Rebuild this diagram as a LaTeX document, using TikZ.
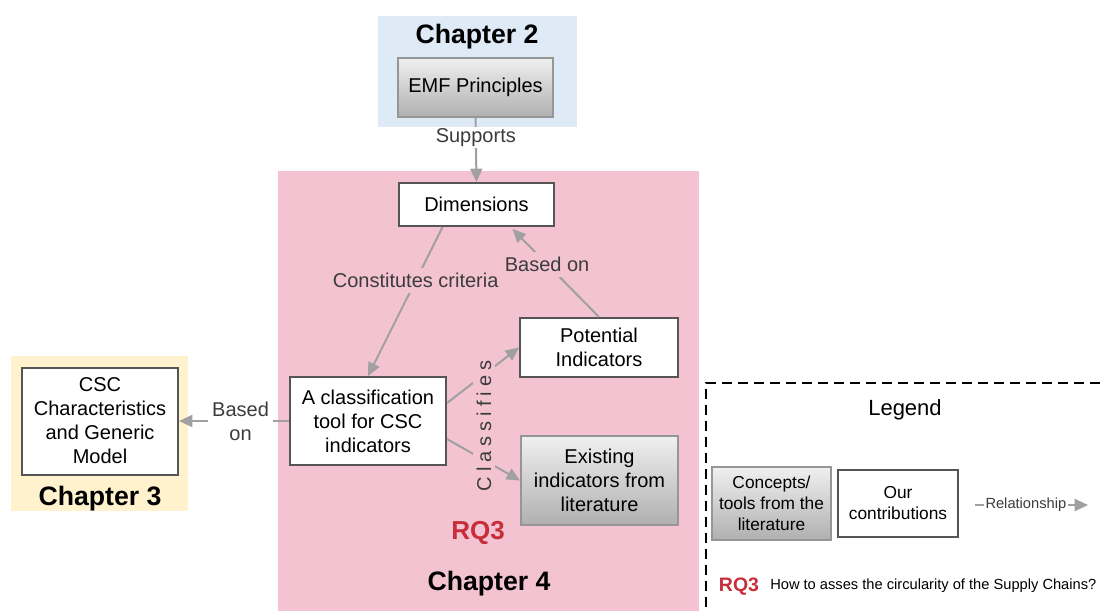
\documentclass[tikz,border=0pt]{standalone}
\usepackage{fontspec}
\setmainfont{Liberation Sans}
\usetikzlibrary{arrows.meta,calc}
\definecolor{bluebg}{RGB}{222,235,247}
\definecolor{pinkbg}{RGB}{243,195,209}
\definecolor{yellowbg}{RGB}{255,242,204}
\definecolor{rqred}{RGB}{200,45,58}
\definecolor{linegray}{RGB}{160,160,160}
\definecolor{boxborder}{RGB}{85,85,85}
\definecolor{gradborder}{RGB}{150,150,150}
\definecolor{labeltext}{RGB}{60,60,60}
\tikzset{
  ourbox/.style={draw=boxborder, line width=1.5pt, fill=white, align=center, inner sep=2pt,
    font=\fontsize{15}{18}\selectfont},
  litbox/.style={draw=gradborder, line width=1.5pt, top color=gray!12, bottom color=gray!62, align=center, inner sep=2pt,
    font=\fontsize{15}{18}\selectfont},
  rel/.style={draw=linegray, line width=1.5pt, -{Triangle[length=10pt,width=9pt]}},
  rellabel/.style={font=\fontsize{15}{18}\selectfont, text=labeltext, align=center, inner sep=4pt},
  chap/.style={font=\fontsize{20}{24}\selectfont\bfseries},
}
\begin{document}
\begin{tikzpicture}[x=0.75pt,y=-0.75pt]
\useasboundingbox (0,0) rectangle (1100,611);
% backgrounds
\fill[bluebg] (378,16) rectangle (577,127);
\fill[pinkbg] (278,171) rectangle (699,611);
\fill[yellowbg] (11,356) rectangle (188,511);
% chapter labels
\node[chap] (ch2) at (477,37) {Chapter 2};
\node[chap] (ch3) at (100,499) {Chapter 3};
\node[chap] (ch4) at (489,584) {Chapter 4};
\node[font=\fontsize{19.5}{22}\selectfont\bfseries, text=rqred] (rq) at (478,533) {RQ3};
% nodes
\node[litbox, minimum width=116.25pt, minimum height=44.25pt] (emf) at (475.5,87.5) {EMF Principles};
\node[ourbox, minimum width=116.25pt, minimum height=32.25pt] (dim) at (476.5,204.5) {Dimensions};
\node[ourbox, minimum width=118.5pt, minimum height=44.25pt] (pot) at (599,347.5) {Potential\\Indicators};
\node[ourbox, minimum width=117pt, minimum height=66pt] (cls) at (368,421) {A classification\\tool for CSC\\indicators};
\node[litbox, minimum width=117.75pt, minimum height=66.75pt] (exi) at (599.5,480.5) {Existing\\indicators from\\literature};
\node[ourbox, minimum width=117pt, minimum height=80.25pt] (csc) at (100,421) {CSC\\Characteristics\\and Generic\\Model};
% connectors
\draw[rel] (emf.south) -- node[pos=0.31, rellabel, fill=white, inner xsep=4pt, inner ysep=1pt] {Supports} (dim.north);
\draw[rel] ($(dim.south)+(-34,0)$) -- node[pos=0.36, rellabel, fill=pinkbg] {Constitutes criteria} (cls.north);
\draw[rel] (pot.north) -- node[pos=0.6, rellabel, fill=pinkbg] {Based on} ($(dim.south)+(36,2)$);
\draw[rel] (cls.west) -- node[pos=0.44, rellabel, fill=white, inner sep=3pt] {Based\\on} (csc.east);
\draw[rel] ($(cls.east)+(0,-18)$) -- (pot.west);
\draw[rel] ($(cls.east)+(0,18)$) -- (exi.west);
\node[rotate=90, fill=pinkbg, inner sep=3pt, text=labeltext,
  font=\fontsize{15}{18}\selectfont\addfontfeature{LetterSpace=25}] (clf) at (484,426) {Classifies};
% legend
\draw[black, line width=1.5pt, dash pattern=on 7.5pt off 4.5pt] (1100,383) -- (706,383) -- (706,615);
\node[font=\fontsize{16.5}{20}\selectfont] (leg) at (905,410) {Legend};
\node[litbox, minimum width=89.25pt, minimum height=54.75pt, font=\fontsize{13}{15.75}\selectfont] (con) at (771.5,503.5) {Concepts/\\tools from the\\literature};
\node[ourbox, minimum width=90pt, minimum height=50.25pt, font=\fontsize{13}{15.75}\selectfont] (our) at (898,503.5) {Our\\contributions};
\coordinate (r1) at (975,505);
\coordinate (r2) at (1088,505);
\draw[rel] (r1) -- node[pos=0.45, fill=white, inner sep=1pt, text=labeltext, font=\fontsize{11}{13}\selectfont] {Relationship} (r2);
\node[font=\fontsize{14.6}{17}\selectfont\bfseries, text=rqred] (rql) at (739,587) {RQ3};
\node[font=\fontsize{11}{13}\selectfont, anchor=west, inner sep=0pt] (rqt) at (770,586) {How to asses the circularity of the Supply Chains?};
\end{tikzpicture}
\end{document}
